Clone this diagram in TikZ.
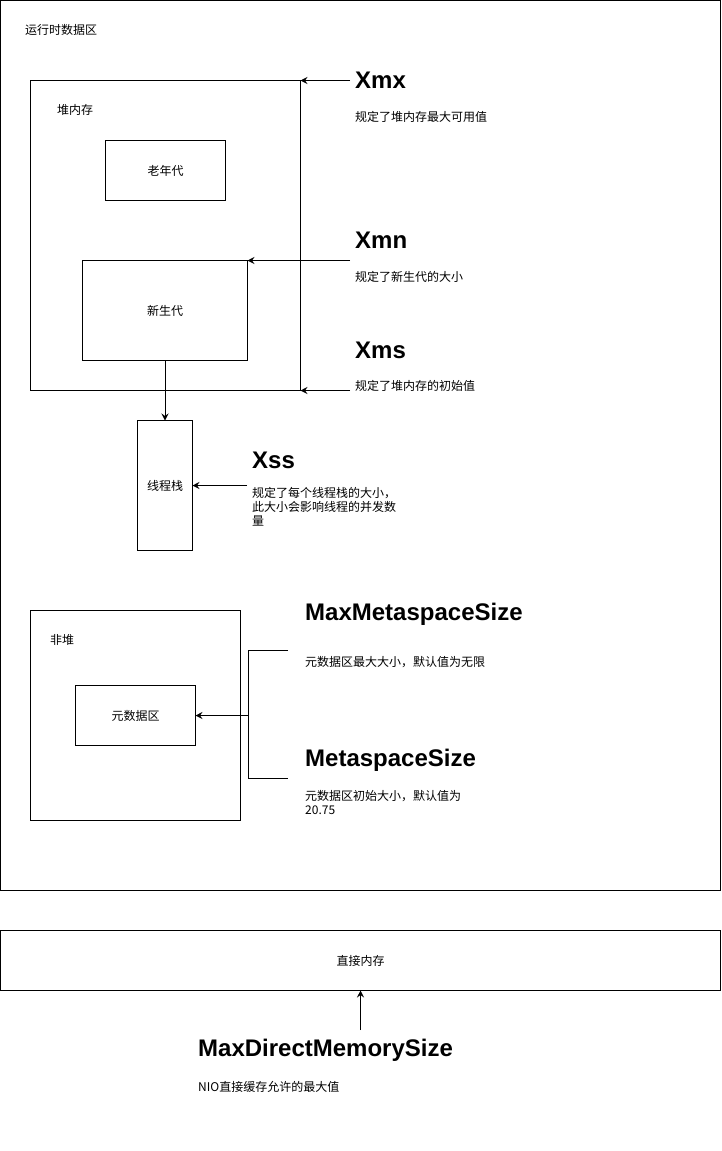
\documentclass[tikz,border=0pt]{standalone}
\usepackage{fontspec}
\setmainfont{Liberation Sans}
\newfontfamily\cjk{Noto Sans CJK SC}
\usetikzlibrary{arrows.meta}
\tikzset{
  box/.style={draw=black, line width=1pt, inner sep=0pt, outer sep=0pt, anchor=north west},
  txt/.style={font=\cjk\fontsize{12}{14}\selectfont, inner sep=0pt, anchor=west, align=left},
  head/.style={font=\bfseries\fontsize{24}{28}\selectfont, inner sep=0pt, anchor=west},
  arr/.style={draw=black, line width=1pt, -{Stealth[length=7pt,width=7pt,inset=2.5pt]}},
  ln/.style={draw=black, line width=1pt}
}
\begin{document}
\begin{tikzpicture}[x=1pt,y=-1pt]
\useasboundingbox (0,0) rectangle (721,1151);
% outer runtime area
\node[box, minimum width=720pt, minimum height=890pt] (rt) at (0.5,0.5) {};
\node[txt] (rtl) at (25,30) {运行时数据区};
% heap
\node[box, minimum width=270pt, minimum height=310pt] (heap) at (30.5,80.5) {};
\node[txt] (heapl) at (57,110) {堆内存};
\node[box, minimum width=120pt, minimum height=60pt, font=\cjk\fontsize{12}{14}\selectfont] (old) at (105.5,140.5) {老年代};
\node[box, minimum width=165pt, minimum height=100pt, font=\cjk\fontsize{12}{14}\selectfont] (young) at (82.5,260.5) {新生代};
\node[box, minimum width=55pt, minimum height=130pt, font=\cjk\fontsize{12}{14}\selectfont] (stack) at (137.5,420.5) {线程栈};
\draw[arr] (young.south) -- (stack.north);
% Xmx
\node[head] (xmx) at (355,80) {Xmx};
\node[txt] (xmxd) at (355,117) {规定了堆内存最大可用值};
\coordinate (xmxs) at (350,80.5);
\draw[arr] (xmxs) -- (heap.north east);
% Xmn
\node[head] (xmn) at (355,240) {Xmn};
\node[txt] (xmnd) at (355,277) {规定了新生代的大小};
\coordinate (xmns) at (350,260.5);
\draw[arr] (xmns) -- (young.north east);
% Xms
\node[head] (xms) at (355,350) {Xms};
\node[txt] (xmsd) at (355,386) {规定了堆内存的初始值};
\coordinate (xmss) at (350,390.5);
\draw[arr] (xmss) -- (heap.south east);
% Xss
\node[head] (xss) at (252,460) {Xss};
\node[txt, anchor=north west] (xssd) at (252,487) {规定了每个线程栈的大小，\\此大小会影响线程的并发数\\量};
\coordinate (xsss) at (247,485.5);
\draw[arr] (xsss) -- (stack.east);
% non-heap
\node[box, minimum width=210pt, minimum height=210pt] (nonheap) at (30.5,610.5) {};
\node[txt] (nonheapl) at (50,640) {非堆};
\node[box, minimum width=120pt, minimum height=60pt, font=\cjk\fontsize{12}{14}\selectfont] (meta) at (75.5,685.5) {元数据区};
\node[head] (maxmeta) at (305,614) {MaxMetaspaceSize};
\node[txt] (maxmetad) at (305,662) {元数据区最大大小，默认值为无限};
\node[head] (metas) at (305,760) {MetaspaceSize};
\node[txt, anchor=north west] (metasd) at (305,790) {元数据区初始大小，默认值为\\20.75};
\coordinate (bt) at (288,650.5);
\coordinate (bb) at (288,778.5);
\coordinate (bm) at (248.5,715.5);
\draw[ln] (bt) -- (248.5,650.5) -- (248.5,778.5) -- (bb);
\draw[arr] (bm) -- (meta.east);
% direct memory
\node[box, minimum width=720pt, minimum height=60pt, font=\cjk\fontsize{12}{14}\selectfont] (direct) at (0.5,930.5) {直接内存};
\node[head] (mdm) at (198,1050) {MaxDirectMemorySize};
\node[txt] (mdmd) at (198,1087) {NIO直接缓存允许的最大值};
\coordinate (ds) at (360.5,1030);
\draw[arr] (ds) -- (direct.south);
\end{tikzpicture}
\end{document}
